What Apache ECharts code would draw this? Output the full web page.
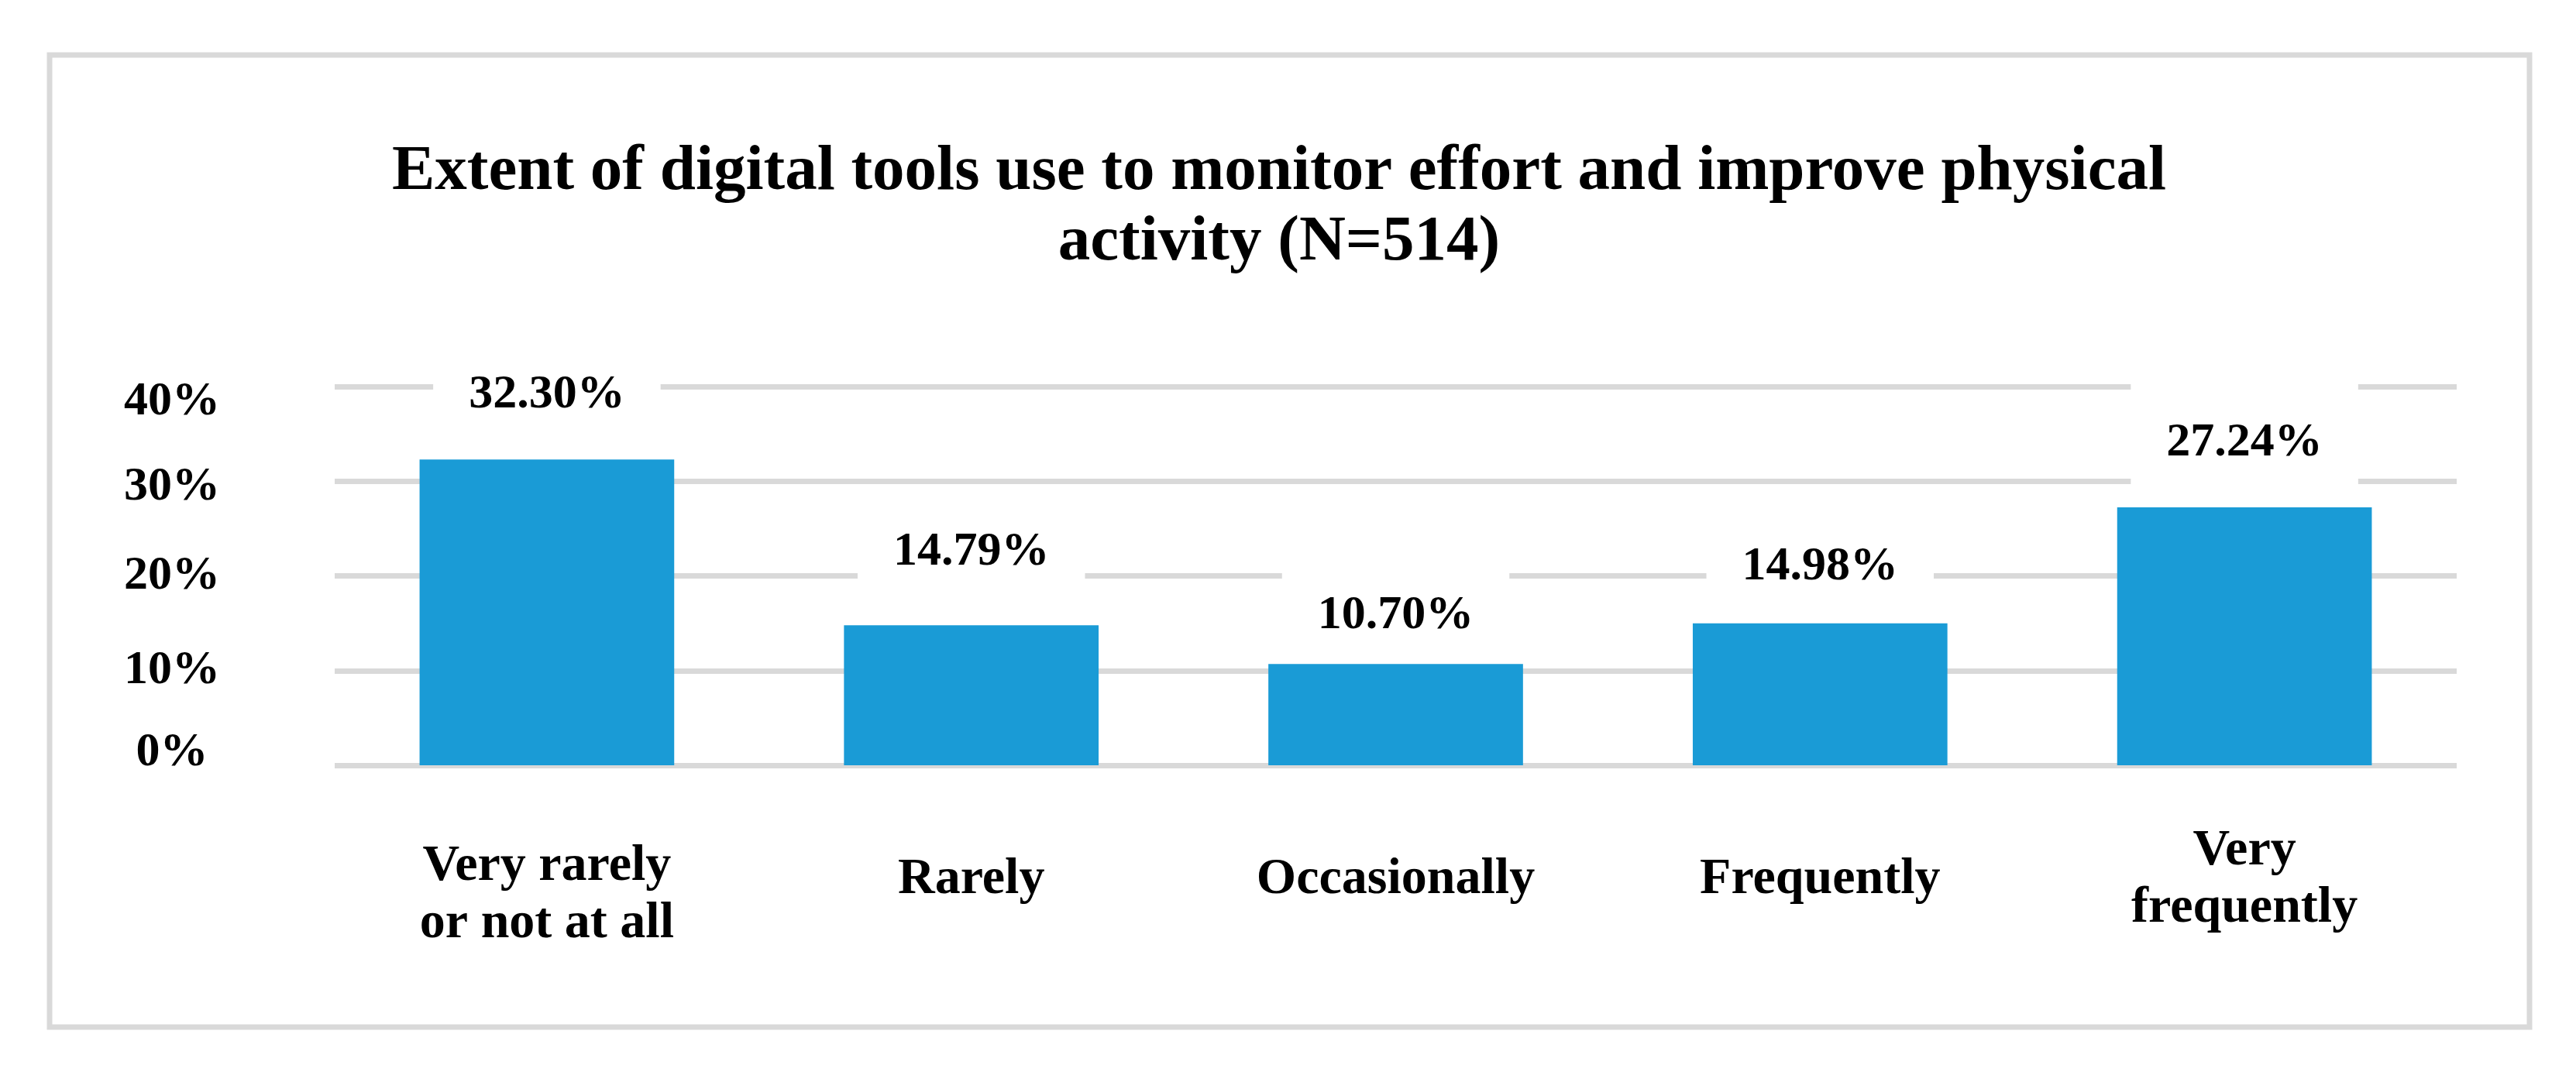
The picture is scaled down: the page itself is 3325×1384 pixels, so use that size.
<!DOCTYPE html>
<html>
<head>
<meta charset="utf-8">
<script src="https://cdn.jsdelivr.net/npm/echarts@6/dist/echarts.min.js"></script>
<style>
  html, body { margin: 0; padding: 0; background: #ffffff; }
  #chart { width: 3325px; height: 1384px; }
</style>
</head>
<body>
<div id="chart"></div>
<script>
const titleText = 'Extent of digital tools use to monitor effort and improve physical\nactivity (N=514)';
const categories = ['Very rarely\nor not at all', 'Rarely', 'Occasionally', 'Frequently', 'Very\nfrequently'];
const values = [32.30, 14.79, 10.70, 14.98, 27.24];
const yTicks = { min: 0, max: 40, interval: 10 };

const FONT = '"Liberation Serif", "DejaVu Serif", serif';
const chart = echarts.init(document.getElementById('chart'), null, { renderer: 'canvas' });

// small vertical nudges imitating the hand-placed labels of the original figure
const yLabelShift = { 40: 20, 30: 8, 0: -16 };
const valueLabelShift = [0, -11, 21, 10, 0];

const gapRich = {};
[8, 16, 32, 40].forEach(h => { gapRich['g' + h] = { fontSize: 1, lineHeight: h }; });

chart.setOption({
  backgroundColor: '#ffffff',
  animation: false,
  graphic: [{
    type: 'rect',
    shape: { x: 64, y: 71, width: 3201, height: 1255 },
    style: { fill: 'none', stroke: '#d9d9d9', lineWidth: 7 },
    z: -10
  }],
  title: {
    text: titleText,
    left: 1646,
    textAlign: 'center',
    top: 172,
    textStyle: {
      fontFamily: FONT,
      fontWeight: 'bold',
      fontSize: 83,
      lineHeight: 91,
      color: '#000000'
    }
  },
  grid: { left: 432, right: 154, top: 499, bottom: 396, containLabel: false },
  xAxis: {
    type: 'category',
    data: categories,
    axisLine: { show: false },
    axisTick: { show: false },
    axisLabel: {
      interval: 0,
      margin: 148,
      verticalAlign: 'middle',
      fontFamily: FONT,
      fontWeight: 'bold',
      fontSize: 66,
      lineHeight: 74,
      color: '#000000',
      formatter: (value, index) => index === 0 ? '{g40| }\n' + value : value,
      rich: gapRich
    }
  },
  yAxis: {
    type: 'value',
    min: yTicks.min,
    max: yTicks.max,
    interval: yTicks.interval,
    axisLine: { show: false },
    axisTick: { show: false },
    splitLine: { show: true, lineStyle: { color: '#d9d9d9', width: 7 } },
    axisLabel: {
      align: 'center',
      margin: 210,
      fontFamily: FONT,
      fontWeight: 'bold',
      fontSize: 62,
      lineHeight: 62,
      color: '#000000',
      formatter: (v) => {
        const s = yLabelShift[v] || 0;
        const txt = v + '%';
        if (s > 0) return '{g' + (2 * s) + '| }\n' + txt;
        if (s < 0) return txt + '\n{g' + (-2 * s) + '| }';
        return txt;
      },
      rich: gapRich
    }
  },
  series: [{
    type: 'bar',
    data: values,
    barCategoryGap: '40%',
    itemStyle: { color: '#1a9bd6' },
    label: {
      show: true,
      position: 'top',
      distance: 22,
      formatter: (p) => p.value.toFixed(2) + '%',
      fontFamily: FONT,
      fontWeight: 'bold',
      fontSize: 62,
      lineHeight: 62,
      color: '#000000',
      backgroundColor: '#ffffff',
      padding: [46, 46, 30, 46]
    },
    labelLayout: (params) => ({ dy: valueLabelShift[params.dataIndex] || 0 })
  }]
});
</script>
</body>
</html>
